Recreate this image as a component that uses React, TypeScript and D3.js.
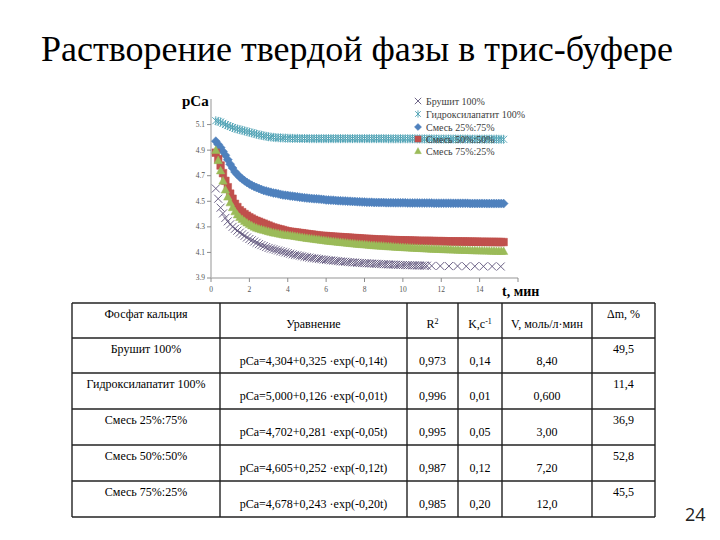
import React from "react";
import * as d3 from "d3";

// time grid, minutes (8 readings per row)
const T = [
  0.25,0.375,0.5,0.625,0.75,0.875,1,1.125,
  1.25,1.375,1.5,1.625,1.75,1.875,2,2.125,
  2.25,2.375,2.5,2.625,2.75,2.875,3,3.125,
  3.25,3.375,3.5,3.625,3.75,3.875,4,4.125,
  4.25,4.375,4.5,4.625,4.75,4.875,5,5.125,
  5.25,5.375,5.5,5.625,5.75,5.875,6,6.125,
  6.25,6.375,6.5,6.625,6.75,6.875,7,7.125,
  7.25,7.375,7.5,7.625,7.75,7.875,8,8.125,
  8.25,8.375,8.5,8.625,8.75,8.875,9,9.125,
  9.25,9.375,9.5,9.625,9.75,9.875,10,10.125,
  10.25,10.375,10.5,10.625,10.75,10.875,11,11.125,
  11.25,11.375,11.5,11.625,11.75,11.875,12,12.125,
  12.25,12.375,12.5,12.625,12.75,12.875,13,13.125,
  13.25,13.375,13.5,13.625,13.75,13.875,14,14.125,
  14.25,14.375,14.5,14.625,14.75,14.875,15,15.125,
  15.25,
];

const T_BRUSHITE = [
  0.25,0.375,0.5,0.625,0.75,0.875,1,1.125,
  1.25,1.375,1.5,1.625,1.75,1.875,2,2.125,
  2.25,2.375,2.5,2.625,2.75,2.875,3,3.125,
  3.25,3.375,3.5,3.625,3.75,3.875,4,4.125,
  4.25,4.375,4.5,4.625,4.75,4.875,5,5.125,
  5.25,5.375,5.5,5.625,5.75,5.875,6,6.125,
  6.25,6.375,6.5,6.625,6.75,6.875,7,7.125,
  7.25,7.375,7.5,7.625,7.75,7.875,8,8.125,
  8.25,8.375,8.5,8.625,8.75,8.875,9,9.125,
  9.25,9.375,9.5,9.625,9.75,9.875,10,10.125,
  10.25,10.375,10.5,10.625,10.75,10.875,11,11.125,
  11.25,
  11.5,11.95,12.4,12.85,13.3,13.75,14.2,14.65,15.1,
];

const brushite = [
  4.60,4.52,4.45,4.405,4.37,4.343,4.32,4.30,
  4.285,4.27,4.255,4.242,4.23,4.217,4.205,4.195,
  4.185,4.175,4.165,4.157,4.15,4.142,4.135,4.13,
  4.125,4.12,4.115,4.11,4.105,4.1,4.095,4.09,
  4.085,4.081,4.078,4.074,4.07,4.066,4.063,4.06,
  4.057,4.054,4.052,4.049,4.047,4.044,4.042,4.04,
  4.038,4.036,4.034,4.032,4.03,4.028,4.027,4.025,
  4.024,4.022,4.021,4.019,4.018,4.017,4.016,4.015,
  4.014,4.013,4.012,4.011,4.01,4.009,4.008,4.007,
  4.006,4.005,4.005,4.004,4.003,4.002,4.002,4.001,
  4.0,4.0,3.999,3.999,3.998,3.998,3.997,3.997,
  3.996,
  3.995,3.994,3.993,3.993,3.992,3.992,3.991,3.991,3.99,
];

const hydroxyapatite = [
  5.13,5.125,5.12,5.11,5.10,5.092,5.085,5.077,
  5.07,5.065,5.06,5.055,5.05,5.045,5.04,5.035,
  5.03,5.025,5.02,5.016,5.012,5.008,5.005,5.002,
  5.0,4.998,4.997,4.996,4.995,4.994,4.993,4.993,
  4.992,4.992,4.992,4.991,4.991,4.991,4.991,4.99,
  4.99,4.99,4.99,4.99,4.99,4.99,4.99,4.99,
  4.99,4.99,4.99,4.99,4.99,4.99,4.99,4.99,
  4.99,4.99,4.99,4.99,4.99,4.99,4.99,4.99,
  4.99,4.99,4.99,4.99,4.99,4.99,4.99,4.99,
  4.989,4.989,4.989,4.989,4.989,4.989,4.989,4.989,
  4.989,4.989,4.989,4.989,4.988,4.988,4.988,4.988,
  4.988,4.988,4.988,4.988,4.987,4.987,4.987,4.987,
  4.987,4.987,4.987,4.987,4.987,4.987,4.987,4.987,
  4.987,4.987,4.986,4.986,4.986,4.986,4.986,4.986,
  4.986,4.986,4.986,4.986,4.986,4.986,4.985,4.985,
  4.985,
];

const mix25 = [
  4.97,4.945,4.92,4.89,4.86,4.825,4.79,4.76,
  4.73,4.71,4.69,4.675,4.66,4.647,4.635,4.625,
  4.615,4.607,4.60,4.592,4.585,4.58,4.575,4.57,
  4.565,4.562,4.558,4.554,4.55,4.547,4.545,4.542,
  4.54,4.537,4.535,4.532,4.53,4.527,4.525,4.523,
  4.521,4.52,4.519,4.517,4.515,4.513,4.511,4.51,
  4.509,4.508,4.506,4.505,4.504,4.503,4.502,4.501,
  4.5,4.499,4.498,4.497,4.496,4.495,4.494,4.493,
  4.492,4.492,4.491,4.491,4.49,4.49,4.49,4.489,
  4.489,4.489,4.489,4.488,4.488,4.488,4.488,4.488,
  4.487,4.487,4.487,4.487,4.487,4.486,4.486,4.486,
  4.486,4.486,4.486,4.485,4.485,4.485,4.485,4.485,
  4.485,4.485,4.485,4.484,4.484,4.484,4.484,4.484,
  4.484,4.484,4.483,4.483,4.483,4.483,4.483,4.483,
  4.483,4.482,4.482,4.482,4.482,4.482,4.482,4.482,
  4.482,
];

const mix50 = [
  4.88,4.83,4.78,4.72,4.66,4.61,4.56,4.52,
  4.48,4.455,4.43,4.415,4.40,4.387,4.375,4.365,
  4.355,4.347,4.34,4.332,4.325,4.317,4.31,4.302,
  4.295,4.29,4.285,4.28,4.275,4.27,4.265,4.262,
  4.26,4.257,4.255,4.252,4.25,4.247,4.245,4.242,
  4.24,4.237,4.235,4.232,4.23,4.229,4.228,4.226,
  4.225,4.223,4.222,4.221,4.22,4.218,4.217,4.216,
  4.215,4.213,4.212,4.211,4.21,4.208,4.207,4.206,
  4.205,4.204,4.203,4.201,4.2,4.2,4.2,4.199,
  4.198,4.197,4.196,4.196,4.195,4.195,4.194,4.194,
  4.193,4.193,4.192,4.192,4.191,4.191,4.19,4.19,
  4.19,4.19,4.189,4.189,4.188,4.188,4.188,4.188,
  4.187,4.187,4.186,4.186,4.186,4.186,4.185,4.185,
  4.185,4.185,4.184,4.184,4.184,4.184,4.183,4.183,
  4.183,4.183,4.182,4.182,4.182,4.182,4.181,4.181,
  4.181,
];

const mix75 = [
  4.90,4.82,4.74,4.66,4.59,4.535,4.49,4.452,
  4.42,4.395,4.375,4.36,4.345,4.332,4.32,4.31,
  4.30,4.292,4.285,4.28,4.275,4.27,4.265,4.26,
  4.255,4.252,4.248,4.244,4.24,4.237,4.235,4.232,
  4.23,4.227,4.224,4.221,4.218,4.215,4.212,4.21,
  4.207,4.205,4.202,4.2,4.197,4.195,4.192,4.19,
  4.188,4.186,4.184,4.182,4.18,4.178,4.176,4.174,
  4.172,4.17,4.168,4.166,4.165,4.163,4.162,4.16,
  4.158,4.156,4.155,4.153,4.152,4.151,4.15,4.148,
  4.147,4.146,4.145,4.143,4.142,4.141,4.14,4.139,
  4.138,4.137,4.136,4.135,4.134,4.133,4.132,4.131,
  4.13,4.129,4.128,4.127,4.127,4.126,4.125,4.124,
  4.124,4.123,4.122,4.121,4.121,4.12,4.12,4.119,
  4.118,4.118,4.117,4.116,4.116,4.115,4.115,4.114,
  4.114,4.113,4.113,4.112,4.112,4.111,4.111,4.11,
  4.11,
];

const seriesNames = ["Брушит 100%", "Гидроксилапатит 100%", "Смесь 25%:75%", "Смесь 50%:50%", "Смесь 75%:25%"];
const seriesTimes = [T_BRUSHITE, T, T, T, T];
const seriesValues = [brushite, hydroxyapatite, mix25, mix50, mix75];
const seriesMarkers = ["x", "star", "diamond", "square", "triangle"];
const seriesColors = ["#5b5078", "#4a9fb2", "#4f81bd", "#c0504d", "#9bbb59"];

const yTicks = [3.9, 4.1, 4.3, 4.5, 4.7, 4.9, 5.1];
const xTicks = [0, 2, 4, 6, 8, 10, 12, 14, 16];
const xTickLabels = ["0", "2", "4", "6", "8", "10", "12", "14", ""];

const tableHeader = ["Фосфат кальция", "Уравнение", "R²", "K,c⁻¹", "V, моль/л·мин", "Δm, %"];
const tableNames = ["Брушит 100%", "Гидроксилапатит 100%", "Смесь 25%:75%", "Смесь 50%:50%", "Смесь 75%:25%"];
const tableEquations = [
  "pCa=4,304+0,325 ·exp(-0,14t)",
  "pCa=5,000+0,126 ·exp(-0,01t)",
  "pCa=4,702+0,281 ·exp(-0,05t)",
  "pCa=4,605+0,252 ·exp(-0,12t)",
  "pCa=4,678+0,243 ·exp(-0,20t)",
];
const tableR2 = ["0,973", "0,996", "0,995", "0,987", "0,985"];
const tableK = ["0,14", "0,01", "0,05", "0,12", "0,20"];
const tableV = ["8,40", "0,600", "3,00", "7,20", "12,0"];
const tableDm = ["49,5", "11,4", "36,9", "52,8", "45,5"];

function markerPath(kind: string): string {
  switch (kind) {
    case "x": return "M-4,-4L4,4M-4,4L4,-4";
    case "star": return "M-3.5,-3.5L3.5,3.5M-3.5,3.5L3.5,-3.5M0,-4.5L0,4.5";
    case "diamond": return "M0,-4.5L4.5,0L0,4.5L-4.5,0Z";
    case "square": return "M-3.8,-3.8H3.8V3.8H-3.8Z";
    case "triangle": return "M0,-4.3L4.2,3.3H-4.2Z";
  }
  return "";
}
const isLine = (k: string) => k === "x" || k === "star";

export default function App() {
  const W = 720, H = 540;
  const x = d3.scaleLinear().domain([0, 16]).range([211, 518]);
  const y = d3.scaleLinear().domain([3.9, 5.3]).range([278, 99]);

  const colX = [72, 220, 407, 458, 502, 592, 655];
  const rowY = [303, 338, 373, 409, 445, 481, 517];
  const serif = "'Liberation Serif', 'Times New Roman', serif";

  const legendY = [101, 114, 127, 139, 151];

  return (
    <svg width={W} height={H} style={{ position: "absolute", left: 0, top: 0, background: "#fff" }} fontFamily={serif}>
      <rect width={W} height={H} fill="#fff" />
      <text x={357} y={61} fontSize={36} textAnchor="middle" fill="#000">
        Растворение твердой фазы в трис-буфере
      </text>

      {/* axes */}
      <line x1={x(0)} x2={x(0)} y1={y(5.3)} y2={y(3.9)} stroke="#b8b8b8" strokeWidth={1.5} />
      <line x1={x(0)} x2={x(16)} y1={y(3.9)} y2={y(3.9)} stroke="#b8b8b8" strokeWidth={1.5} />
      {yTicks.map((t) => (
        <g key={"yt" + t}>
          <line x1={x(0) - 4} x2={x(0)} y1={y(t)} y2={y(t)} stroke="#8c8c8c" strokeWidth={1} />
          <text x={x(0) - 6} y={y(t)} dy="0.33em" fontSize={7.5} textAnchor="end" fill="#555">{t.toFixed(1)}</text>
        </g>
      ))}
      {xTicks.map((t, i) => (
        <g key={"xt" + t}>
          <line x1={x(t)} x2={x(t)} y1={y(3.9)} y2={y(3.9) + 4} stroke="#8c8c8c" strokeWidth={1} />
          <text x={x(t)} y={y(3.9) + 14} fontSize={7.5} textAnchor="middle" fill="#555">{xTickLabels[i]}</text>
        </g>
      ))}
      <text x={182} y={106} fontSize={15} fontWeight="bold" fill="#000">pCa</text>
      <text x={502} y={296} fontSize={14} fontWeight="bold" fill="#000">t, мин</text>

      {/* series */}
      {seriesValues.map((vals, si) => (
        <g key={"s" + si}>
          {vals.map((v, i) => (
            <path
              key={i}
              d={markerPath(seriesMarkers[si])}
              transform={`translate(${x(seriesTimes[si][i])},${y(v)})`}
              fill={isLine(seriesMarkers[si]) ? "none" : seriesColors[si]}
              stroke={seriesColors[si]}
              strokeWidth={isLine(seriesMarkers[si]) ? 0.9 : 0.5}
            />
          ))}
        </g>
      ))}

      {/* legend */}
      {seriesNames.map((n, i) => (
        <g key={"lg" + i} transform={`translate(418,${legendY[i]})`}>
          <path
            d={markerPath(seriesMarkers[i])}
            transform="scale(0.8)"
            fill={isLine(seriesMarkers[i]) ? "none" : seriesColors[i]}
            stroke={seriesColors[i]}
            strokeWidth={isLine(seriesMarkers[i]) ? 1.1 : 0.5}
          />
          <text x={8} y={0} dy="0.35em" fontSize={10} fill="#404040">{n}</text>
        </g>
      ))}

      {/* table */}
      <g>
        {colX.map((cx, i) => (
          <line key={"cl" + i} x1={cx} x2={cx} y1={rowY[0]} y2={rowY[rowY.length - 1]} stroke="#222" strokeWidth={1.4} />
        ))}
        {rowY.map((ry, i) => (
          <line key={"rl" + i} x1={colX[0]} x2={colX[colX.length - 1]} y1={ry} y2={ry} stroke="#222" strokeWidth={1.4} />
        ))}
        {tableHeader.map((h, i) => {
          const cx = (colX[i] + colX[i + 1]) / 2;
          const top = i === 0 || i === 5;
          if (i === 3) {
            return (
              <text key={"h" + i} x={cx} y={rowY[0] + 21} dy="0.35em" fontSize={12} textAnchor="middle" fill="#000">
                K,c<tspan dy="-4" fontSize={8}>-1</tspan>
              </text>
            );
          }
          if (i === 2) {
            return (
              <text key={"h" + i} x={cx} y={rowY[0] + 21} dy="0.35em" fontSize={12} textAnchor="middle" fill="#000">
                R<tspan dy="-4" fontSize={8}>2</tspan>
              </text>
            );
          }
          return (
            <text key={"h" + i} x={cx} y={rowY[0] + (top ? 11 : 21)} dy="0.35em" fontSize={12} textAnchor="middle" fill="#000">{h}</text>
          );
        })}
        {tableNames.map((n, r) => {
          const ry = rowY[r + 1];
          const cells = [n, tableEquations[r], tableR2[r], tableK[r], tableV[r], tableDm[r]];
          return cells.map((c, i) => {
            const cx = (colX[i] + colX[i + 1]) / 2;
            const top = i === 0 || i === 5;
            return (
              <text key={"c" + r + "_" + i} x={cx} y={ry + (top ? 11 : 23)} dy="0.35em" fontSize={12} textAnchor="middle" fill="#000">{c}</text>
            );
          });
        })}
      </g>

      <text x={685} y={521} fontSize={18} fontFamily="'Open Sans', 'Noto Sans', sans-serif" fill="#222">24</text>
    </svg>
  );
}
